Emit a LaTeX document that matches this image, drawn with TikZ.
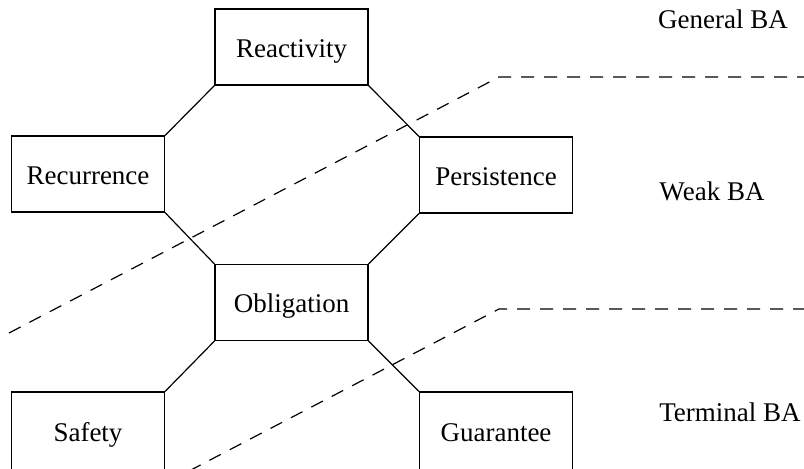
\documentclass[tikz,border=0pt]{standalone}
\usepackage{fontspec}
\setmainfont{Liberation Serif}
\usetikzlibrary{calc}
\tikzset{
    classbox/.style={draw, line width=0.6pt, minimum width=76.5pt, minimum height=38pt, inner sep=0pt, text centered, text height=11pt, text depth=1pt, font=\fontsize{13.5}{16}\selectfont},
    bottombox/.style={classbox, minimum height=39pt},
    baname/.style={inner sep=0pt, font=\fontsize{13.5}{16}\selectfont},
    link/.style={draw, line width=0.6pt},
    border/.style={draw, line width=0.6pt, dash pattern=on 6.5pt off 5pt}
}
\begin{document}
\begin{tikzpicture}[x=0.5pt, y=-0.5pt]
\useasboundingbox (0,0) rectangle (804,468);
\clip (0,0) rectangle (804,468);

% the six classes
\node[classbox] (react) at (291.5,47) {Reactivity};
\node[classbox] (recur) at (88,174) {Recurrence};
\node[classbox] (persist) at (496,175) {Persistence};
\node[classbox] (oblig) at (291.5,302.5) {Obligation};
\node[bottombox] (safety) at (88,431) {Safety};
\node[bottombox] (guar) at (496,431) {Guarantee};

% the hierarchy
\path[link] (react.south west) -- (recur.north east);
\path[link] (react.south east) -- (persist.north west);
\path[link] (recur.south east) -- (oblig.north west);
\path[link] (persist.south west) -- (oblig.north east);
\path[link] (oblig.south west) -- (safety.north east);
\path[link] (oblig.south east) -- (guar.north west);

% borders between automata kinds
\coordinate (w1) at (9,333);
\coordinate (w2) at (499,77);
\coordinate (w3) at (806,77);
\coordinate (t1) at (189,471);
\coordinate (t2) at (499,309);
\coordinate (t3) at (806,309);
\path[border] (w1) -- (w2) -- (w3);
\path[border] (t1) -- (t2) -- (t3);

\node[baname] (general) at (723,19) {General BA};
\node[baname] (weak) at (712,191) {Weak BA};
\node[baname] (terminal) at (730,412) {Terminal BA};
\end{tikzpicture}
\end{document}
